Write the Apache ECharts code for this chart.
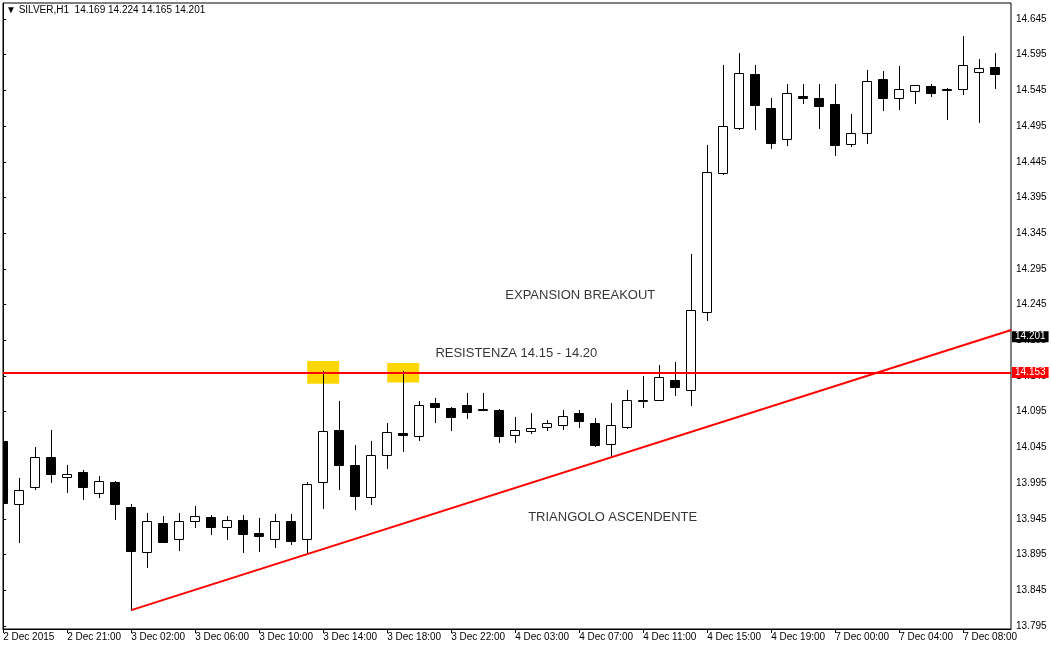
<!DOCTYPE html>
<html>
<head>
<meta charset="utf-8">
<script src="https://cdn.jsdelivr.net/npm/echarts@6/dist/echarts.min.js"></script>
<style>
  html, body { margin: 0; padding: 0; background: #fff; }
  #chart { width: 1051px; height: 647px; }
</style>
</head>
<body>
<div id="chart"></div>
<script>
// SILVER H1 bars
const times = [
  '2 Dec 17:00', '2 Dec 18:00', '2 Dec 19:00', '2 Dec 20:00', '2 Dec 21:00', '2 Dec 22:00',
  '3 Dec 00:00', '3 Dec 01:00', '3 Dec 02:00', '3 Dec 03:00', '3 Dec 04:00', '3 Dec 05:00',
  '3 Dec 06:00', '3 Dec 07:00', '3 Dec 08:00', '3 Dec 09:00', '3 Dec 10:00', '3 Dec 11:00',
  '3 Dec 12:00', '3 Dec 13:00', '3 Dec 14:00', '3 Dec 15:00', '3 Dec 16:00', '3 Dec 17:00',
  '3 Dec 18:00', '3 Dec 19:00', '3 Dec 20:00', '3 Dec 21:00', '3 Dec 22:00', '4 Dec 00:00',
  '4 Dec 01:00', '4 Dec 02:00', '4 Dec 03:00', '4 Dec 04:00', '4 Dec 05:00', '4 Dec 06:00',
  '4 Dec 07:00', '4 Dec 08:00', '4 Dec 09:00', '4 Dec 10:00', '4 Dec 11:00', '4 Dec 12:00',
  '4 Dec 13:00', '4 Dec 14:00', '4 Dec 15:00', '4 Dec 16:00', '4 Dec 17:00', '4 Dec 18:00',
  '4 Dec 19:00', '4 Dec 20:00', '4 Dec 21:00', '4 Dec 22:00', '7 Dec 00:00', '7 Dec 01:00',
  '7 Dec 02:00', '7 Dec 03:00', '7 Dec 04:00', '7 Dec 05:00', '7 Dec 06:00', '7 Dec 07:00',
  '7 Dec 08:00', '7 Dec 09:00', '7 Dec 10:00'
];

const open = [
  14.054, 13.965, 13.989, 14.031, 14.004, 14.010, 13.981, 13.996, 13.961, 13.899,
  13.939, 13.917, 13.942, 13.947, 13.934, 13.943, 13.925, 13.917, 13.942, 13.916,
  13.996, 14.069, 14.021, 13.975, 14.034, 14.065, 14.061, 14.107, 14.100, 14.104,
  14.099, 14.098, 14.062, 14.068, 14.073, 14.076, 14.093, 14.079, 14.050, 14.074,
  14.110, 14.112, 14.140, 14.126, 14.234, 14.429, 14.493, 14.568, 14.520, 14.477,
  14.537, 14.535, 14.526, 14.470, 14.486, 14.561, 14.535, 14.544, 14.551, 14.547,
  14.547, 14.571, 14.578
];
const high = [
  14.059, 14.002, 14.045, 14.070, 14.021, 14.013, 14.005, 13.998, 13.965, 13.953,
  13.949, 13.953, 13.963, 13.950, 13.949, 13.950, 13.946, 13.951, 13.951, 13.996,
  14.152, 14.110, 14.048, 14.054, 14.079, 14.152, 14.110, 14.114, 14.101, 14.121,
  14.121, 14.099, 14.087, 14.093, 14.083, 14.098, 14.097, 14.086, 14.107, 14.126,
  14.145, 14.160, 14.165, 14.316, 14.469, 14.581, 14.598, 14.581, 14.534, 14.554,
  14.554, 14.554, 14.554, 14.512, 14.573, 14.572, 14.579, 14.552, 14.554, 14.549,
  14.621, 14.589, 14.598
];
const low = [
  13.966, 13.913, 13.987, 13.996, 13.982, 13.972, 13.976, 13.945, 13.817, 13.877,
  13.913, 13.901, 13.934, 13.924, 13.917, 13.899, 13.900, 13.906, 13.910, 13.897,
  13.960, 13.986, 13.958, 13.966, 14.016, 14.040, 14.055, 14.080, 14.070, 14.086,
  14.098, 14.052, 14.052, 14.065, 14.069, 14.071, 14.073, 14.047, 14.031, 14.072,
  14.102, 14.112, 14.119, 14.105, 14.224, 14.428, 14.491, 14.491, 14.465, 14.468,
  14.527, 14.492, 14.454, 14.467, 14.471, 14.517, 14.519, 14.528, 14.537, 14.505,
  14.540, 14.501, 14.549
];
const close = [
  13.967, 13.985, 14.031, 14.007, 14.007, 13.989, 13.998, 13.965, 13.900, 13.942,
  13.913, 13.942, 13.949, 13.933, 13.943, 13.923, 13.921, 13.942, 13.914, 13.993,
  14.068, 14.021, 13.977, 14.034, 14.066, 14.062, 14.105, 14.101, 14.087, 14.094,
  14.098, 14.061, 14.069, 14.072, 14.079, 14.089, 14.082, 14.049, 14.076, 14.111,
  14.111, 14.144, 14.129, 14.237, 14.430, 14.495, 14.570, 14.524, 14.471, 14.542,
  14.535, 14.523, 14.468, 14.485, 14.558, 14.534, 14.547, 14.552, 14.541, 14.546,
  14.580, 14.576, 14.568
];

// time scale labels (bar index -> text)
const xTickIndex = [0, 4, 8, 12, 16, 20, 24, 28, 32, 36, 40, 44, 48, 52, 56, 60];
const xTickLabels = [
  '2 Dec 2015', '2 Dec 21:00', '3 Dec 02:00', '3 Dec 06:00', '3 Dec 10:00', '3 Dec 14:00',
  '3 Dec 18:00', '3 Dec 22:00', '4 Dec 03:00', '4 Dec 07:00', '4 Dec 11:00', '4 Dec 15:00',
  '4 Dec 19:00', '7 Dec 00:00', '7 Dec 04:00', '7 Dec 08:00'
];

// price scale labels
const priceTicks = [
  13.795, 13.845, 13.895, 13.945, 13.995, 14.045, 14.095, 14.145, 14.195,
  14.245, 14.295, 14.345, 14.395, 14.445, 14.495, 14.545, 14.595, 14.645
];

// drawn objects
const resistance = 14.153;
const bidPrice = 14.201;
const trendLine = [[8, 13.817], [63, 14.2095]];
const highlightBoxes = [
  [19, 21, 14.134, 14.166],
  [24, 26, 14.136, 14.163]
];
const notes = [
  ['EXPANSION BREAKOUT', 31.35, 14.258],
  ['RESISTENZA 14.15 - 14.20', 26.98, 14.176],
  ['TRIANGOLO ASCENDENTE', 32.78, 13.947]
];
const header = '\u25BC SILVER,H1  14.169 14.224 14.165 14.201';

const FONT = '"Liberation Sans", Arial, sans-serif';

// MetaTrader-style candle: 1px wick, white bull body with black border, solid black bear body
function renderCandle(params, api) {
  const i = api.value(0);
  const o = api.value(1), h = api.value(2), l = api.value(3), c = api.value(4);
  const cx = Math.floor(api.coord([i, o])[0]);
  const yo = Math.round(api.coord([i, o])[1]);
  const yc = Math.round(api.coord([i, c])[1]);
  const yh = Math.round(api.coord([i, h])[1]);
  const yl = Math.round(api.coord([i, l])[1]);
  const half = Math.round(api.size([1, 0])[0] * 0.3125);
  const top = Math.min(yo, yc);
  const bot = Math.max(yo, yc);
  const bull = c >= o;
  return {
    type: 'group',
    children: [
      {
        type: 'line',
        shape: { x1: cx + 0.5, y1: yh, x2: cx + 0.5, y2: yl + 1 },
        style: { stroke: '#000', lineWidth: 1 }
      },
      {
        type: 'rect',
        shape: { x: cx - half + 0.5, y: top + 0.5, width: 2 * half - 1, height: Math.max(bot - top, 1) },
        style: { fill: bull ? '#fff' : '#000', stroke: '#000', lineWidth: 1 }
      }
    ]
  };
}

// price tag at the right edge of the price scale
function priceTag(value, bg) {
  return {
    show: true, position: 'end', distance: 1,
    formatter: value.toFixed(3),
    color: '#fff', backgroundColor: bg,
    padding: [1, 3, 0, 3], fontSize: 10, fontFamily: FONT
  };
}

const chart = echarts.init(document.getElementById('chart'), null, { renderer: 'canvas' });

chart.setOption({
  animation: false,
  backgroundColor: '#fff',
  title: {
    text: header,
    left: 6,
    top: 5,
    padding: 0,
    textStyle: { fontSize: 10, fontWeight: 'normal', color: '#000', fontFamily: FONT }
  },
  grid: {
    left: 3, right: 40, top: 3, bottom: 18,
    show: true, borderColor: '#000', borderWidth: 1, backgroundColor: '#fff',
    containLabel: false
  },
  xAxis: {
    type: 'value',
    min: -0.0125,
    max: 62.9875,
    splitLine: { show: false },
    axisLine: { show: true, onZero: false, lineStyle: { color: '#000', width: 1 } },
    axisTick: { show: true, length: 4, customValues: xTickIndex, lineStyle: { color: '#000' } },
    axisLabel: {
      customValues: xTickIndex,
      formatter: v => xTickLabels[xTickIndex.indexOf(Math.round(v))] || '',
      align: 'left',
      margin: 3,
      fontSize: 10,
      color: '#000',
      fontFamily: FONT
    }
  },
  yAxis: {
    type: 'value',
    position: 'right',
    min: 13.7906,
    max: 14.6674,
    scale: true,
    splitLine: { show: false },
    axisLine: { show: true, lineStyle: { color: '#000', width: 1 } },
    axisTick: { show: true, length: 3, customValues: priceTicks, lineStyle: { color: '#000' } },
    axisLabel: {
      customValues: priceTicks,
      formatter: v => v.toFixed(3),
      margin: 5,
      fontSize: 10,
      color: '#000',
      fontFamily: FONT
    }
  },
  series: [
    {
      // highlighted touches of the resistance
      type: 'line',
      z: 1,
      data: [],
      silent: true,
      markArea: {
        silent: true,
        itemStyle: { color: '#FFD700', opacity: 1 },
        data: highlightBoxes.map(b => [{ coord: [b[0], b[2]] }, { coord: [b[1], b[3]] }])
      }
    },
    {
      type: 'custom',
      name: 'SILVER,H1',
      z: 2,
      clip: true,
      renderItem: renderCandle,
      encode: { x: 0, y: [1, 2, 3, 4] },
      data: times.map((t, i) => [i, open[i], high[i], low[i], close[i]])
    },
    {
      // ascending triangle support
      type: 'line',
      z: 3,
      clip: true,
      symbol: 'none',
      silent: true,
      lineStyle: { color: '#ff0000', width: 2 },
      data: trendLine,
      markLine: {
        silent: true,
        symbol: 'none',
        animation: false,
        data: [
          {
            yAxis: resistance,
            lineStyle: { color: '#ff0000', width: 2, type: 'solid' },
            label: priceTag(resistance, '#ff0000')
          },
          {
            yAxis: bidPrice,
            lineStyle: { color: 'rgba(0,0,0,0)', width: 1, type: 'solid' },
            label: priceTag(bidPrice, '#000000')
          }
        ]
      }
    },
    {
      type: 'scatter',
      z: 4,
      silent: true,
      symbolSize: 1,
      itemStyle: { color: 'rgba(0,0,0,0)' },
      data: notes.map(n => ({ name: n[0], value: [n[1], n[2]] })),
      label: {
        show: true,
        position: 'right',
        distance: 0,
        formatter: p => p.name,
        fontSize: 13,
        color: '#000',
        fontFamily: FONT
      }
    }
  ]
});
</script>
</body>
</html>
